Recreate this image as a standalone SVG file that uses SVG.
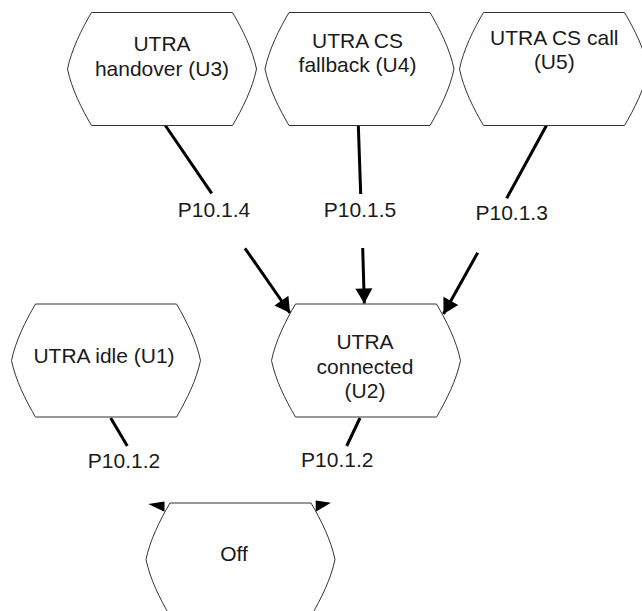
<svg xmlns="http://www.w3.org/2000/svg" xmlns:xlink="http://www.w3.org/1999/xlink" width="642" height="611" viewBox="0 0 642 611">
  <style>
    .node { fill: #ffffff; stroke: #333333; stroke-width: 1; }
    .txt { font-family: "Liberation Sans", Arial, sans-serif; font-size: 21px; fill: #1a1a1a; text-anchor: middle; }
    .conn { stroke: #000000; stroke-width: 3; fill: none; }
    .head { fill: #000000; stroke: none; }
  </style>
  <defs>
    <path id="hex" d="M24,0 H165 C175,17 185,37 189,56.5 C185,76 175,96 165,113 H24 C14,96 4,76 0,56.5 C4,37 14,17 24,0 Z"/>
    <marker id="arrow" markerUnits="userSpaceOnUse" markerWidth="16" markerHeight="18" viewBox="0 -9 15 18" refX="15" refY="0" orient="auto">
      <path d="M0,-8.5 L15,0 L0,8.5 Z" fill="#000000"/>
    </marker>
  </defs>

  <g id="connectors">
    <line class="conn" x1="165" y1="125" x2="211.7" y2="193.3"/>
    <line class="conn" x1="245" y1="248.3" x2="290" y2="313" marker-end="url(#arrow)"/>
    <line class="conn" x1="358.3" y1="125" x2="360.7" y2="194"/>
    <line class="conn" x1="362.7" y1="248" x2="364.3" y2="303.5" marker-end="url(#arrow)"/>
    <line class="conn" x1="546.7" y1="125" x2="506.7" y2="198.3"/>
    <line class="conn" x1="477.7" y1="252.7" x2="443.5" y2="314" marker-end="url(#arrow)"/>
    <line class="conn" x1="110.7" y1="418" x2="127.3" y2="446"/>
    <line class="conn" x1="360" y1="418" x2="346.7" y2="446"/>
    <polygon class="head" points="148.3,504 164.5,501.6 164.5,511.8"/>
    <polygon class="head" points="331,502.7 315.7,500.6 315.7,511.8"/>
    <text class="txt" x="214" y="216.7">P10.1.4</text>
    <text class="txt" x="360" y="216.7">P10.1.5</text>
    <text class="txt" x="511.7" y="220">P10.1.3</text>
    <text class="txt" x="124" y="468.3">P10.1.2</text>
    <text class="txt" x="337.3" y="467.3">P10.1.2</text>
  </g>

  <g id="U3">
    <use href="#hex" xlink:href="#hex" class="node" x="67.5" y="12.5"/>
    <text class="txt" x="162" y="51">UTRA</text>
    <text class="txt" x="162" y="76">handover (U3)</text>
  </g>
  <g id="U4">
    <use href="#hex" xlink:href="#hex" class="node" x="265" y="12.5"/>
    <text class="txt" x="357.5" y="47.5">UTRA CS</text>
    <text class="txt" x="357.5" y="72">fallback (U4)</text>
  </g>
  <g id="U5">
    <use href="#hex" xlink:href="#hex" class="node" x="459.5" y="12.5"/>
    <text class="txt" x="554.3" y="45">UTRA CS call</text>
    <text class="txt" x="554.3" y="69">(U5)</text>
  </g>
  <g id="U1">
    <use href="#hex" xlink:href="#hex" class="node" x="11.5" y="304"/>
    <text class="txt" x="104" y="363">UTRA idle (U1)</text>
  </g>
  <g id="U2">
    <use href="#hex" xlink:href="#hex" class="node" x="271.5" y="304"/>
    <text class="txt" x="365" y="349.3">UTRA</text>
    <text class="txt" x="365" y="373.8">connected</text>
    <text class="txt" x="365" y="398.3">(U2)</text>
  </g>
  <g id="Off">
    <use href="#hex" xlink:href="#hex" class="node" x="146" y="503"/>
    <text class="txt" x="234" y="560.7">Off</text>
  </g>
</svg>
